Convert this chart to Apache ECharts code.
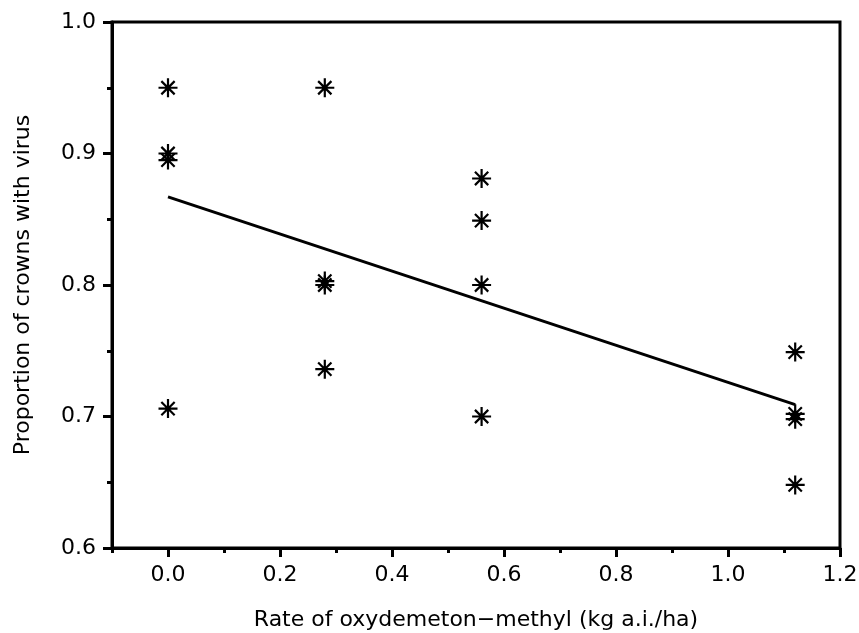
<!DOCTYPE html>
<html>
<head>
<meta charset="utf-8">
<script src="https://cdn.jsdelivr.net/npm/echarts@6/dist/echarts.min.js"></script>
<style>html,body{margin:0;padding:0;background:#fff;}#c{width:859px;height:633px;}</style>
</head>
<body>
<div id="c"></div>
<script>
// Observed data (rate kg a.i./ha, proportion of crowns with virus)
var rateX = [0, 0, 0, 0, 0.28, 0.28, 0.28, 0.28, 0.56, 0.56, 0.56, 0.56, 1.12, 1.12, 1.12, 1.12];
var propY = [0.95, 0.90, 0.895, 0.706, 0.95, 0.803, 0.80, 0.736, 0.881, 0.849, 0.80, 0.70, 0.749, 0.702, 0.698, 0.648];
// Fitted regression line endpoints
var fitX = [0, 1.12];
var fitY = [0.867, 0.709];
// Tick values
var xMajorTicks = [0, 0.2, 0.4, 0.6, 0.8, 1.0, 1.2];
var xMinorTicks = [-0.1, 0.1, 0.3, 0.5, 0.7, 0.9, 1.1];
var xTitle = 'Rate of oxydemeton\u2212methyl (kg a.i./ha)';
var yTitle = 'Proportion of crowns with virus';

var pts = rateX.map(function (x, i) { return [x, propY[i]]; });
var fit = fitX.map(function (x, i) { return [x, fitY[i]]; });

var font = 'DejaVu Sans';
var chart = echarts.init(document.getElementById('c'), null, {renderer: 'canvas'});
chart.setOption({
  animation: false,
  backgroundColor: '#fff',
  grid: {left: 112, right: 19, top: 22, bottom: 85, containLabel: false, outerBoundsMode: 'none',
    show: true, borderColor: '#000', borderWidth: 3, backgroundColor: 'transparent'},
  xAxis: [{
    type: 'value', min: -0.1, max: 1.2,
    name: xTitle, nameLocation: 'middle', nameGap: 61,
    nameTextStyle: {fontFamily: font, fontSize: 22, color: '#000'},
    axisLine: {show: true, onZero: false, lineStyle: {color: '#000', width: 3}},
    axisTick: {show: true, inside: false, length: 9, customValues: xMajorTicks, lineStyle: {color: '#000', width: 3}},
    axisLabel: {fontFamily: font, fontSize: 22, color: '#000', margin: 16, customValues: xMajorTicks,
      formatter: function (v) { return v.toFixed(1); }},
    splitLine: {show: false}
  }, {
    type: 'value', min: -0.1, max: 1.2, position: 'bottom',
    axisLine: {show: false, onZero: false},
    axisTick: {show: true, inside: false, length: 5, customValues: xMinorTicks, lineStyle: {color: '#000', width: 3}},
    axisLabel: {show: false},
    splitLine: {show: false}
  }],
  yAxis: {
    type: 'value', min: 0.6, max: 1.0, interval: 0.1,
    name: yTitle, nameLocation: 'middle', nameGap: 78, nameRotate: 90,
    nameTextStyle: {fontFamily: font, fontSize: 22, color: '#000'},
    axisLine: {show: true, onZero: false, lineStyle: {color: '#000', width: 3}},
    axisTick: {show: true, inside: false, length: 9, lineStyle: {color: '#000', width: 3}},
    minorTick: {show: true, splitNumber: 2, length: 5, lineStyle: {color: '#000', width: 3}},
    axisLabel: {fontFamily: font, fontSize: 22, color: '#000', margin: 16,
      formatter: function (v) { return v.toFixed(1); }},
    splitLine: {show: false}
  },
  series: [
    {
      type: 'line', data: fit, showSymbol: false, symbol: 'none',
      lineStyle: {color: '#000', width: 3}, z: 2
    },
    {
      type: 'scatter', data: pts, symbolSize: 19,
      symbol: 'path://M10,0L10,20M0,10L20,10M3,3L17,17M3,17L17,3',
      itemStyle: {color: 'rgba(0,0,0,0)', borderColor: '#000', borderWidth: 2.2, opacity: 1}, z: 3
    }
  ]
});
</script>
</body>
</html>
